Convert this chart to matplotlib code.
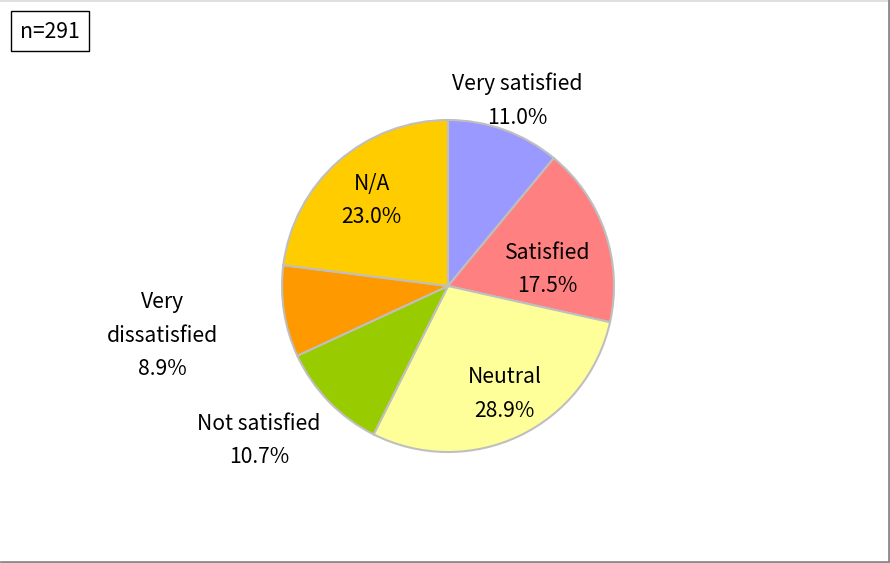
import matplotlib
matplotlib.use("Agg")
import matplotlib.pyplot as plt
from matplotlib.patches import Rectangle

plt.rcParams['font.family'] = ['Noto Sans CJK JP', 'DejaVu Sans']

categories = ["Very satisfied", "Satisfied", "Neutral", "Not satisfied", "Very dissatisfied", "N/A"]
label_names = ["Very satisfied", "Satisfied", "Neutral", "Not satisfied", "Very\ndissatisfied", "N/A"]
values = [11.0, 17.5, 28.9, 10.7, 8.9, 23.0]
colors = ["#9999FF", "#FF8080", "#FFFF99", "#99CC00", "#FF9900", "#FFCC00"]
sample_size = 291

W, H = 890, 563
fig = plt.figure(figsize=(W / 100, H / 100), dpi=100)
ax = fig.add_axes([0, 0, 1, 1])

cx, cy, r = 448, H - 286, 166
ax.pie(values, colors=colors, startangle=90, counterclock=False,
       center=(cx, cy), radius=r,
       wedgeprops=dict(edgecolor="#BFBFBF", linewidth=1.5))
ax.set_xlim(0, W)
ax.set_ylim(0, H)
ax.set_axis_off()

# label centres as offsets from the pie centre (in radius units)
label_offsets = [(0.42, 1.115), (0.60, 0.10), (0.34, -0.65),
                 (-1.14, -0.93), (-1.72, -0.30), (-0.46, 0.515)]
for name, v, (dx, dy) in zip(label_names, values, label_offsets):
    ax.text(cx + dx * r, cy + dy * r, f"{name}\n{v:.1f}%",
            ha="center", va="center", fontsize=15.2, linespacing=1.68,
            color="black")

# sample size box
ax.add_patch(Rectangle((11, H - 51), 78, 40, fill=False,
                       edgecolor="black", linewidth=1.0))
ax.text(50, H - 32, f"n={sample_size}", ha="center", va="center",
        fontsize=15.2, color="black")

# outer frame of the chart area
ax.plot([0.5, W - 1.5, W - 1.5], [H - 1, H - 1, 1.5], color="#D9D9D9", lw=1.2)
ax.plot([W - 1.2, W - 1.2, 0.5], [H, 1.2, 1.2], color="#8C8C8C", lw=2)

fig.savefig("out.png", dpi=100)
